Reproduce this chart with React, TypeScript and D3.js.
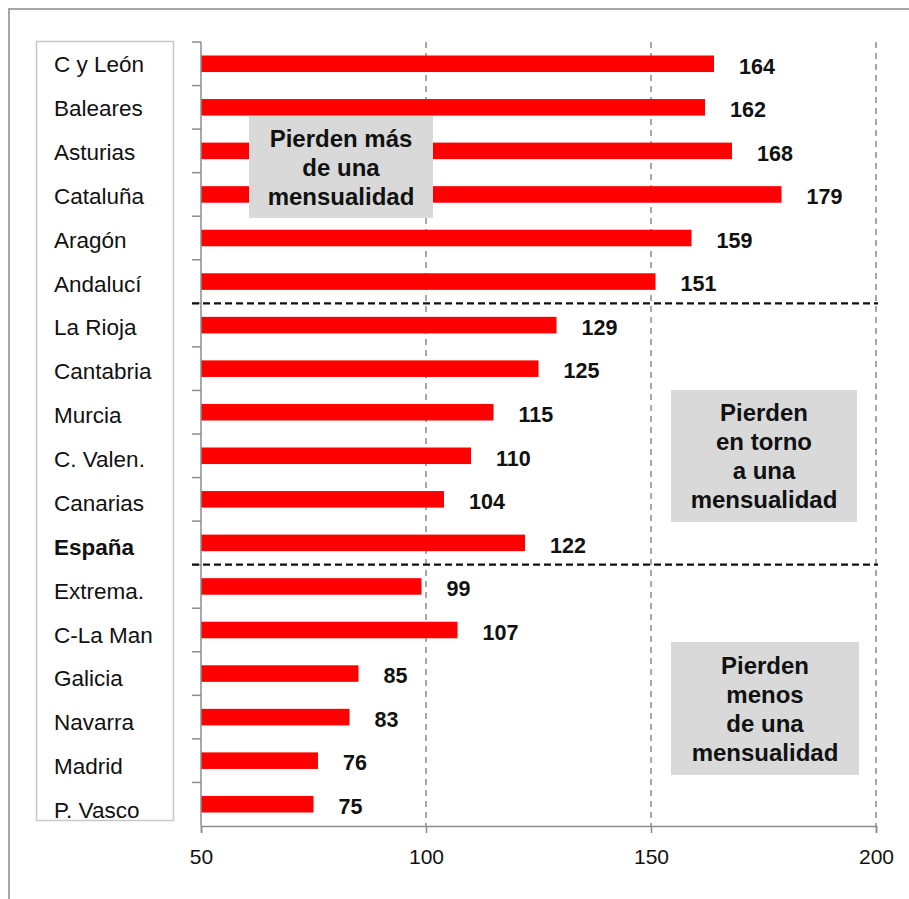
import React, { useEffect, useRef } from 'react';
import * as d3 from 'd3';

const categories = ['C y León', 'Baleares', 'Asturias', 'Cataluña', 'Aragón', 'Andalucí', 'La Rioja', 'Cantabria', 'Murcia', 'C. Valen.', 'Canarias', 'España', 'Extrema.', 'C-La Man', 'Galicia', 'Navarra', 'Madrid', 'P. Vasco'];
const values = [164, 162, 168, 179, 159, 151, 129, 125, 115, 110, 104, 122, 99, 107, 85, 83, 76, 75];
const xTicks = [50, 100, 150, 200];
const groupBreaks = ['La Rioja', 'Extrema.'];
const boxTexts = [
    ['Pierden más', 'de una', 'mensualidad'],
    ['Pierden', 'en torno', 'a una', 'mensualidad'],
    ['Pierden', 'menos', 'de una', 'mensualidad'],
];

const W = 909, H = 899;
const FONT = 'Arial, "Liberation Sans", sans-serif';

export default function App() {
    const ref = useRef<SVGSVGElement>(null);

    useEffect(() => {
        const svg = d3.select(ref.current);
        svg.selectAll('*').remove();

        const x = d3.scaleLinear().domain([50, 200]).range([201, 876]);
        const y = d3.scaleBand().domain(categories).range([42, 826]).paddingInner(0.62).paddingOuter(0.31);
        const labelY = d3.scalePoint().domain(categories).range([64, 810]);
        const top = 42, bottom = 826;
        const edge = (c: string) => (y(c) as number) - y.step() * 0.31;

        // outer frame
        svg.append('rect')
            .attr('x', 9).attr('y', 9).attr('width', W + 10).attr('height', H + 10)
            .attr('fill', 'none').attr('stroke', '#a6a6a6').attr('stroke-width', 2);

        // category label box
        svg.append('rect')
            .attr('x', 36.5).attr('y', 41.5).attr('width', 137).attr('height', 779)
            .attr('fill', 'white').attr('stroke', '#c8c8c8').attr('stroke-width', 1.5);

        const clip = svg.append('clipPath').attr('id', 'lblclip');
        clip.append('rect').attr('x', 37).attr('y', 42).attr('width', 136).attr('height', 778);

        svg.append('g').attr('clip-path', 'url(#lblclip)')
            .selectAll('text').data(categories).join('text')
            .attr('x', 54)
            .attr('y', d => labelY(d) as number)
            .attr('dy', '0.36em')
            .attr('font-family', FONT)
            .attr('font-size', 22.5)
            .attr('font-weight', d => d === 'España' ? 'bold' : 'normal')
            .attr('fill', '#111')
            .text(d => d);

        // vertical dashed gridlines
        svg.append('g').selectAll('line').data(xTicks.slice(1)).join('line')
            .attr('x1', d => x(d)).attr('x2', d => x(d))
            .attr('y1', top).attr('y2', bottom)
            .attr('stroke', '#8c8c8c').attr('stroke-width', 1.5)
            .attr('stroke-dasharray', '6,5');

        // bars
        svg.append('g').selectAll('rect').data(values).join('rect')
            .attr('x', x(50))
            .attr('y', (d, i) => y(categories[i]) as number)
            .attr('width', d => x(d) - x(50))
            .attr('height', y.bandwidth())
            .attr('fill', '#ff0000');

        // y axis with ticks on boundaries
        svg.append('line')
            .attr('x1', 201).attr('x2', 201).attr('y1', top).attr('y2', bottom)
            .attr('stroke', '#8c8c8c').attr('stroke-width', 1.5);
        svg.append('g').selectAll('line').data(categories).join('line')
            .attr('x1', 192).attr('x2', 201)
            .attr('y1', d => edge(d)).attr('y2', d => edge(d))
            .attr('stroke', '#8c8c8c').attr('stroke-width', 1.5);

        // x axis
        const xAxis = svg.append('g')
            .attr('transform', 'translate(0,' + bottom + ')')
            .call(d3.axisBottom(x).tickValues(xTicks).tickSize(7).tickPadding(16));
        xAxis.select('.domain').attr('stroke', '#8c8c8c').attr('stroke-width', 1.5);
        xAxis.selectAll('.tick line').attr('stroke', '#8c8c8c').attr('stroke-width', 1.5);
        xAxis.selectAll('text')
            .attr('font-family', FONT).attr('font-size', 21).attr('fill', '#111');

        // group separators
        svg.append('g').selectAll('line').data(groupBreaks).join('line')
            .attr('x1', 192).attr('x2', 878)
            .attr('y1', d => edge(d)).attr('y2', d => edge(d))
            .attr('stroke', '#111').attr('stroke-width', 2.2)
            .attr('stroke-dasharray', '7,4');

        // value labels
        svg.append('g').selectAll('text').data(values).join('text')
            .attr('x', d => x(d) + 25)
            .attr('y', (d, i) => (y(categories[i]) as number) + y.bandwidth() / 2 + 2)
            .attr('dy', '0.36em')
            .attr('font-family', FONT)
            .attr('font-size', 21.5)
            .attr('font-weight', 'bold')
            .attr('fill', '#111')
            .text(d => d);

        // annotation boxes
        const boxes = [
            { x0: 249, y0: 116, w: 184, h: 102, lines: boxTexts[0] },
            { x0: 671, y0: 390, w: 186, h: 132, lines: boxTexts[1] },
            { x0: 671, y0: 642, w: 188, h: 133, lines: boxTexts[2] },
        ];
        boxes.forEach(b => {
            const g = svg.append('g');
            g.append('rect')
                .attr('x', b.x0).attr('y', b.y0).attr('width', b.w).attr('height', b.h)
                .attr('fill', '#d9d9d9');
            const lh = 29;
            const start = b.y0 + b.h / 2 - (b.lines.length - 1) * lh / 2;
            g.selectAll('text').data(b.lines).join('text')
                .attr('x', b.x0 + b.w / 2)
                .attr('y', (d, i) => start + i * lh)
                .attr('dy', '0.36em')
                .attr('text-anchor', 'middle')
                .attr('font-family', FONT)
                .attr('font-size', 24)
                .attr('font-weight', 'bold')
                .attr('fill', '#111')
                .text(d => d);
        });
    }, []);

    return (
        <svg ref={ref} width={W} height={H}
            style={{ position: 'absolute', left: 0, top: 0, background: 'white' }} />
    );
}
